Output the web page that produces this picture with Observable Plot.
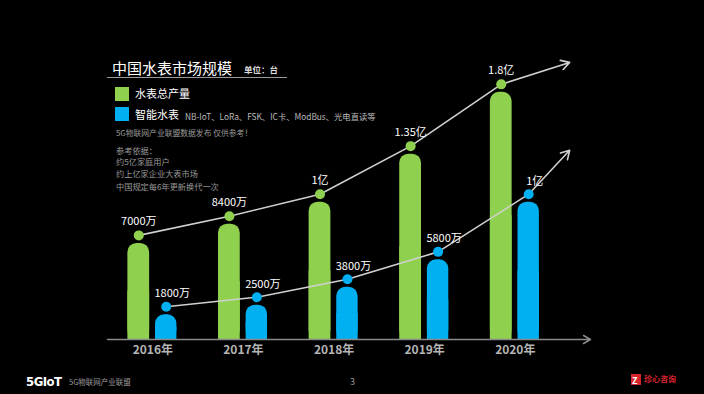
<!DOCTYPE html>
<html><head><meta charset="utf-8">
<script src="https://cdn.jsdelivr.net/npm/d3@7"></script>
<script src="https://cdn.jsdelivr.net/npm/@observablehq/plot@0.6"></script>
<style>
html,body{margin:0;padding:0;background:#000;}
#wrap{position:relative;width:704px;height:394px;overflow:hidden;background:#000;font-family:"Noto Sans CJK SC","Noto Sans",sans-serif;}
#wrap svg{position:absolute;left:0;top:0;}
.t{position:absolute;white-space:nowrap;line-height:1;}
</style></head>
<body><div id="wrap"></div>
<script>
// Data (units: 万台)
const years = [2016, 2017, 2018, 2019, 2020];
const yearLabels = ["2016年", "2017年", "2018年", "2019年", "2020年"];
const totalOutput = [7000, 8400, 10000, 13500, 18000];
const smartOutput = [1800, 2500, 3800, 5800, 10000];
const totalLabels = ["7000万", "8400万", "1亿", "1.35亿", "1.8亿"];
const smartLabels = ["1800万", "2500万", "3800万", "5800万", "1亿"];
const trendTipYear = 2020.6;
const totalTip = 19600;
const smartTip = 13200;
const axisSpan = [2015.5, 2020.83];

const GREEN = "#8fd14f", BLUE = "#00b0f0", LINE = "#d0d0d0";
const rows = years.map((y, i) => ({year: y, yl: yearLabels[i], total: totalOutput[i], smart: smartOutput[i], tl: totalLabels[i], sl: smartLabels[i]}));
const gx = d => d.year - 0.155, bx = d => d.year + 0.148;
const last = rows[rows.length - 1];

const chart = Plot.plot({
  width: 704, height: 394, margin: 0,
  x: {domain: axisSpan, range: [107, 590], axis: null},
  y: {domain: [0, 20000], range: [339, 64.4], axis: null},
  style: {background: "black", fontFamily: "'Noto Sans CJK SC', sans-serif", color: "white"},
  marks: [
    Plot.rect(rows, {x1: d => d.year - 0.275, x2: d => d.year - 0.035, y1: 0, y2: "total", fill: GREEN, rx: 9}),
    Plot.rect(rows, {x1: d => d.year - 0.275, x2: d => d.year - 0.035, y1: 0, y2: d => d.total * 0.5, fill: GREEN}),
    Plot.rect(rows, {x1: d => d.year + 0.03, x2: d => d.year + 0.266, y1: 0, y2: "smart", fill: BLUE, rx: 9}),
    Plot.rect(rows, {x1: d => d.year + 0.03, x2: d => d.year + 0.266, y1: 0, y2: d => d.smart * 0.5, fill: BLUE}),
    Plot.arrow([axisSpan], {x1: d => d[0], x2: d => d[1], y1: 0, y2: 0, stroke: "#8a8a8a", strokeWidth: 1.5, headLength: 8}),
    Plot.line(rows, {x: gx, y: "total", dy: -8, stroke: LINE, strokeWidth: 1.6}),
    Plot.arrow([last], {x1: gx, y1: "total", x2: () => trendTipYear, y2: () => totalTip, dy: -8, stroke: LINE, strokeWidth: 1.6, headLength: 9}),
    Plot.line(rows, {x: bx, y: "smart", dy: -8, stroke: LINE, strokeWidth: 1.6}),
    Plot.arrow([last], {x1: bx, y1: "smart", x2: () => trendTipYear, y2: () => smartTip, dy: -8, stroke: LINE, strokeWidth: 1.6, headLength: 9}),
    Plot.dot(rows, {x: gx, y: "total", dy: -8, r: 5, fill: GREEN}),
    Plot.dot(rows, {x: bx, y: "smart", dy: -8, r: 5, fill: BLUE}),
    Plot.text(rows, {x: gx, y: "total", text: "tl", dy: -22, fill: "white", fontSize: 11}),
    Plot.text(rows, {x: bx, y: "smart", text: "sl", dy: -21, dx: 6, fill: "white", fontSize: 11}),
    Plot.text(rows, {x: "year", y: 0, text: "yl", dy: 11, fill: "#b5b5b5", fontSize: 12, fontWeight: "bold"})
  ]
});
const wrap = document.getElementById("wrap");
wrap.appendChild(chart);

function addText(txt, x, y, size, color, extra) {
  const d = document.createElement("div");
  d.className = "t";
  d.textContent = txt;
  d.style.left = x + "px";
  d.style.top = (y - size / 2) + "px";
  d.style.fontSize = size + "px";
  d.style.color = color;
  if (extra) Object.assign(d.style, extra);
  wrap.appendChild(d);
  return d;
}
function addBox(x, y, w, h, color) {
  const d = document.createElement("div");
  d.style.cssText = `position:absolute;left:${x}px;top:${y}px;width:${w}px;height:${h}px;background:${color};`;
  wrap.appendChild(d);
  return d;
}
addText("中国水表市场规模", 112, 67, 15, "#fff");
addText("单位：台", 244, 69, 8.5, "#ddd", {fontWeight: "bold"});
addBox(107, 77, 180, 1, "#9a9a9a");
addBox(115, 87, 14, 14, GREEN);
addBox(115, 107, 14, 14, BLUE);
addText("水表总产量", 135, 93, 11, "#fff");
addText("智能水表", 135, 114, 11, "#fff");
addText("NB-IoT、LoRa、FSK、IC卡、ModBus、光电直读等", 185, 116, 8.3, "#bbb");
addText("5G物联网产业联盟数据发布  仅供参考！", 116, 133, 7.8, "#999");
addText("参考依据：", 116, 150, 8.2, "#999");
addText("约5亿家庭用户", 116, 161, 8.2, "#999");
addText("约上亿家企业大表市场", 116, 173, 8.2, "#999");
addText("中国规定每6年更新换代一次", 116, 186, 8.2, "#999");
addText("5GIoT", 26, 381, 13, "#fff", {fontWeight: "bold", letterSpacing: "-0.5px", fontFamily: "'DejaVu Sans Condensed','DejaVu Sans',sans-serif"});
addText("5G物联网产业联盟", 69, 382, 7.5, "#999");
addText("3", 350, 381, 9, "#999");
addBox(631, 374, 10, 11, "#d9232d");
addText("Z", 632, 380, 9, "#fff", {fontWeight: "bold"});
addText("珍心咨询", 644, 379, 8, "#d9232d", {fontWeight: "bold"});
</script></body></html>
